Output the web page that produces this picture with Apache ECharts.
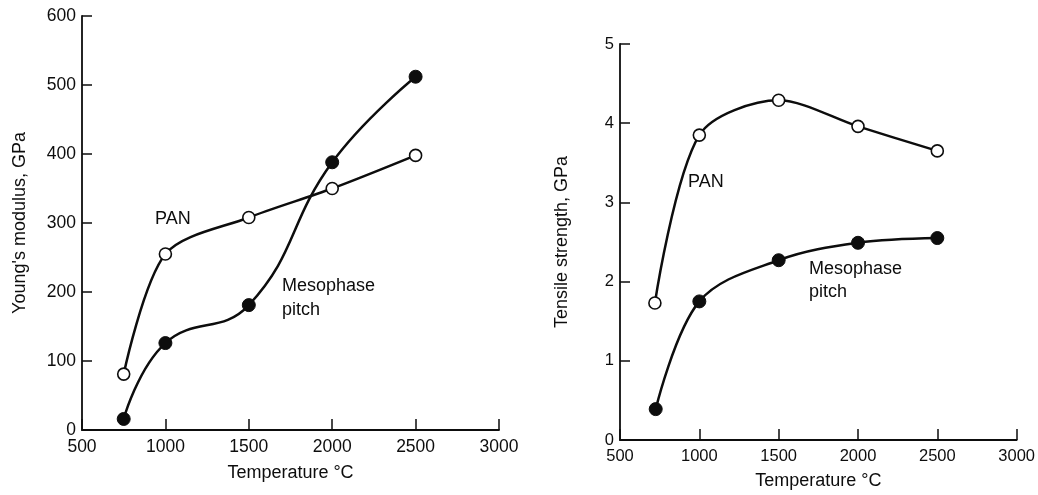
<!DOCTYPE html>
<html>
<head>
<meta charset="utf-8">
<script src="https://cdn.jsdelivr.net/npm/echarts@6/dist/echarts.min.js"></script>
<style>
  html, body { margin: 0; padding: 0; background: #fff; }
  #chart { width: 1038px; height: 495px; }
</style>
</head>
<body>
<div id="chart"></div>
<script>
// Heat-treatment temperature (°C) for each measured fibre sample
const modulusTempsPAN = [750, 1000, 1500, 2000, 2500];
const modulusTempsPitch = [750, 1000, 1500, 2000, 2500];
// Young's modulus, GPa
const modulusPAN = [81, 255, 308, 350, 398];
const modulusPitch = [16, 126, 181, 388, 512];

const strengthTempsPAN = [720, 1000, 1500, 2000, 2500];
const strengthTempsPitch = [725, 1000, 1500, 2000, 2500];
// Tensile strength, GPa
const strengthPAN = [1.73, 3.85, 4.29, 3.96, 3.65];
const strengthPitch = [0.39, 1.75, 2.27, 2.49, 2.55];

const tempTicks = [500, 1000, 1500, 2000, 2500, 3000];
const modulusTicks = [0, 100, 200, 300, 400, 500, 600];
const strengthTicks = [0, 1, 2, 3, 4, 5];

const INK = '#0d0d0d';
const FONT = '"Liberation Sans", Arial, sans-serif';

function pairs(xs, ys) { return xs.map((x, i) => [x, ys[i]]); }

function xAxis(gridIndex, fontSize, nameGap) {
  return {
    type: 'value', gridIndex,
    min: tempTicks[0], max: tempTicks[tempTicks.length - 1], interval: tempTicks[1] - tempTicks[0],
    name: 'Temperature °C', nameLocation: 'middle', nameGap,
    nameTextStyle: { color: INK, fontSize: 18, fontFamily: FONT },
    axisLine: { lineStyle: { color: INK, width: 1.8 } },
    axisTick: { inside: true, length: 11, lineStyle: { color: INK, width: 1.5 } },
    axisLabel: { color: INK, fontSize, fontFamily: FONT, margin: 8, formatter: v => String(v) },
    splitLine: { show: false }
  };
}

function yAxis(gridIndex, ticks, name, nameGap, fontSize) {
  return {
    type: 'value', gridIndex,
    min: ticks[0], max: ticks[ticks.length - 1], interval: ticks[1] - ticks[0],
    name, nameLocation: 'middle', nameRotate: 90, nameGap,
    nameTextStyle: { color: INK, fontSize: 18, fontFamily: FONT },
    axisLine: { show: true, lineStyle: { color: INK, width: 1.8 } },
    axisTick: { show: true, inside: true, length: 10, lineStyle: { color: INK, width: 1.5 } },
    axisLabel: { color: INK, fontSize, fontFamily: FONT, margin: 6, formatter: v => String(v) },
    splitLine: { show: false }
  };
}

function curve(idx, data, open, smooth) {
  return {
    type: 'line', xAxisIndex: idx, yAxisIndex: idx,
    data, smooth,
    symbol: 'circle', symbolSize: open ? 12 : 13,
    lineStyle: { color: INK, width: 2.5 },
    itemStyle: open
      ? { color: '#fff', borderColor: INK, borderWidth: 1.6 }
      : { color: INK, borderColor: INK, borderWidth: 1 },
    z: 3
  };
}

function label(text, left, top) {
  return {
    type: 'text', left, top,
    style: { text, fill: INK, font: '18px ' + FONT }
  };
}

const chart = echarts.init(document.getElementById('chart'));
chart.setOption({
  backgroundColor: '#fff',
  animation: false,
  grid: [
    { left: 82, top: 16, right: 539, bottom: 65 },
    { left: 620, top: 44, right: 21, bottom: 51 }
  ],
  xAxis: [xAxis(0, 17.5, 34), xAxis(1, 16.5, 32)],
  yAxis: [
    yAxis(0, modulusTicks, "Young's modulus, GPa", 53, 17.5),
    yAxis(1, strengthTicks, 'Tensile strength, GPa', 49, 16.5)
  ],
  series: [
    curve(0, pairs(modulusTempsPAN, modulusPAN), true, 0.3),
    curve(0, pairs(modulusTempsPitch, modulusPitch), false, 0.45),
    curve(1, pairs(strengthTempsPAN, strengthPAN), true, 0.3),
    curve(1, pairs(strengthTempsPitch, strengthPitch), false, 0.35)
  ],
  graphic: [
    label('PAN', 155, 210),
    label('Mesophase', 282, 277),
    label('pitch', 282, 301),
    label('PAN', 688, 173),
    label('Mesophase', 809, 260),
    label('pitch', 809, 283)
  ]
});
</script>
</body>
</html>
